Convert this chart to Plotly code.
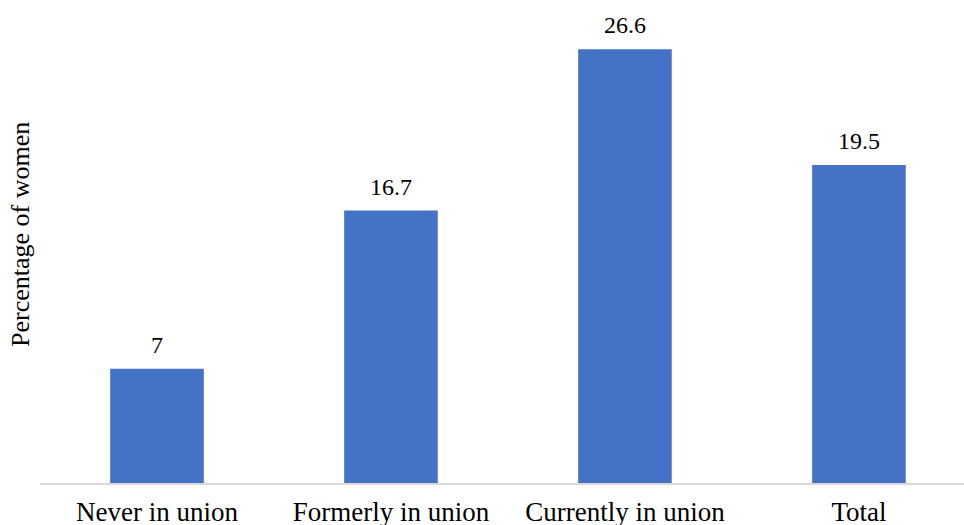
import plotly.graph_objects as go

categories = ["Never in union", "Formerly in union", "Currently in union", "Total"]
values = [7, 16.7, 26.6, 19.5]
labels = ["7", "16.7", "26.6", "19.5"]

FONT = "Liberation Serif, Times New Roman, serif"

fig = go.Figure(go.Bar(
    x=categories, y=values, width=0.4,
    marker=dict(color="#4472C4", line=dict(width=0)),
    cliponaxis=False,
))

W, H = 964, 525
ml, mr, mt, mb = 40, 0, 10, 42

annotations = [dict(text=t, x=c, y=v, xref="x", yref="y", xanchor="center", yanchor="bottom",
                    yshift=9, showarrow=False,
                    font=dict(family=FONT, size=24, color="#000000"))
               for c, v, t in zip(categories, values, labels)]
annotations.append(dict(text="Percentage of women", textangle=-90, xref="paper", yref="paper",
                        x=-19/(W-ml-mr), y=(483-235)/(H-mt-mb), xanchor="center", yanchor="middle",
                        showarrow=False, font=dict(family=FONT, size=26, color="#000000")))

fig.update_layout(
    width=W, height=H,
    margin=dict(l=ml, r=mr, t=mt, b=mb, autoexpand=False),
    paper_bgcolor="white", plot_bgcolor="white",
    showlegend=False,
    font=dict(family=FONT, color="#000000"),
    xaxis=dict(range=[-0.5, 3.449], showgrid=False, showline=True, automargin=False,
               linecolor="#d9d9d9", linewidth=1.5, ticks="", ticklabelstandoff=4,
               tickfont=dict(family=FONT, size=27, color="#000000")),
    yaxis=dict(range=[0, 29], showgrid=False, showline=False, showticklabels=False,
               zeroline=False, ticks="", automargin=False),
    annotations=annotations,
)

fig.write_html("out.html")
